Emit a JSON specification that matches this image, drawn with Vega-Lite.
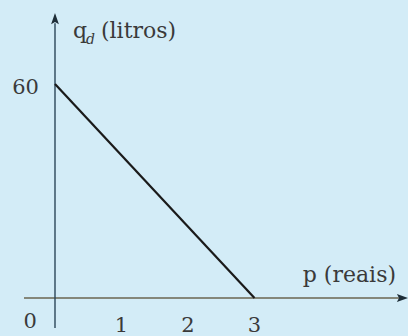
{
  "$schema": "https://vega.github.io/schema/vega-lite/v6.json",
  "width": 408,
  "height": 336,
  "padding": 0,
  "autosize": "none",
  "background": "#d3ecf7",
  "config": {"view": {"stroke": null}, "axis": {"disable": true}},
  "datasets": {
    "demand": [{"p": 0, "q": 60}, {"p": 3, "q": 0}],
    "axes": [
      {"axis": "p", "p": -0.466, "q": 0, "p2": 5.2, "q2": 0},
      {"axis": "q", "p": 0, "q": -8.4, "p2": 0, "q2": 77}
    ],
    "arrows": [
      {"dir": "up", "p": 0, "q": 78.2},
      {"dir": "right", "p": 5.218, "q": 0}
    ],
    "xticks": [{"p": 1, "q": 0, "label": "1"}, {"p": 2, "q": 0, "label": "2"}, {"p": 3, "q": 0, "label": "3"}],
    "origin": [{"p": 0, "q": 0, "label": "0"}],
    "yticks": [{"p": 0, "q": 60, "label": "60"}]
  },
  "encoding": {
    "x": {"field": "p", "type": "quantitative", "scale": {"domain": [-0.827, 5.308], "nice": false, "zero": false}, "axis": null},
    "y": {"field": "q", "type": "quantitative", "scale": {"domain": [-10.654, 83.55], "nice": false, "zero": false}, "axis": null}
  },
  "layer": [
    {
      "data": {"name": "axes"},
      "mark": {"type": "rule", "strokeWidth": 1.4},
      "encoding": {
        "x2": {"field": "p2"},
        "y2": {"field": "q2"},
        "color": {"field": "axis", "type": "nominal", "scale": {"domain": ["p", "q"], "range": ["#6a6650", "#2a4658"]}, "legend": null}
      }
    },
    {
      "data": {"name": "arrows"},
      "mark": {"type": "point", "filled": true, "opacity": 1, "size": 144, "color": "#1e2e38"},
      "encoding": {
        "shape": {"field": "dir", "type": "nominal", "scale": {"domain": ["up", "right"], "range": ["M0,-1L0.65,0.85L0,0.5L-0.65,0.85Z", "M1,0L-0.85,0.65L-0.5,0L-0.85,-0.65Z"]}, "legend": null}
      }
    },
    {
      "data": {"name": "demand"},
      "mark": {"type": "line", "color": "#1a1a1a", "strokeWidth": 2.2},
      "encoding": {}
    },
    {
      "data": {"name": "xticks"},
      "mark": {"type": "text", "font": "DejaVu Serif", "fontSize": 21, "color": "#3a3a3a", "align": "center", "baseline": "alphabetic", "dy": 34},
      "encoding": {"text": {"field": "label"}}
    },
    {
      "data": {"name": "origin"},
      "mark": {"type": "text", "font": "DejaVu Serif", "fontSize": 21, "color": "#3a3a3a", "align": "right", "baseline": "alphabetic", "dx": -18, "dy": 30},
      "encoding": {"text": {"field": "label"}}
    },
    {
      "data": {"name": "yticks"},
      "mark": {"type": "text", "font": "DejaVu Serif", "fontSize": 21, "color": "#3a3a3a", "align": "right", "baseline": "middle", "dx": -16, "dy": 4},
      "encoding": {"text": {"field": "label"}}
    },
    {
      "data": {"values": [{"p": 0, "q": 78.2, "label": "q"}]},
      "mark": {"type": "text", "font": "DejaVu Serif", "fontSize": 22, "color": "#3a3a3a", "align": "left", "baseline": "alphabetic", "dx": 18, "dy": 19},
      "encoding": {"text": {"field": "label"}}
    },
    {
      "data": {"values": [{"p": 0, "q": 78.2, "label": "d"}]},
      "mark": {"type": "text", "font": "DejaVu Serif", "fontStyle": "italic", "fontSize": 14, "color": "#3a3a3a", "align": "left", "baseline": "alphabetic", "dx": 31, "dy": 25},
      "encoding": {"text": {"field": "label"}}
    },
    {
      "data": {"values": [{"p": 0, "q": 78.2, "label": "(litros)"}]},
      "mark": {"type": "text", "font": "DejaVu Serif", "fontSize": 22, "color": "#3a3a3a", "align": "left", "baseline": "alphabetic", "dx": 46, "dy": 19},
      "encoding": {"text": {"field": "label"}}
    },
    {
      "data": {"values": [{"p": 5.218, "q": 0, "label": "p (reais)"}]},
      "mark": {"type": "text", "font": "DejaVu Serif", "fontSize": 22, "color": "#3a3a3a", "align": "right", "baseline": "alphabetic", "dx": -6, "dy": -16},
      "encoding": {"text": {"field": "label"}}
    }
  ]
}
